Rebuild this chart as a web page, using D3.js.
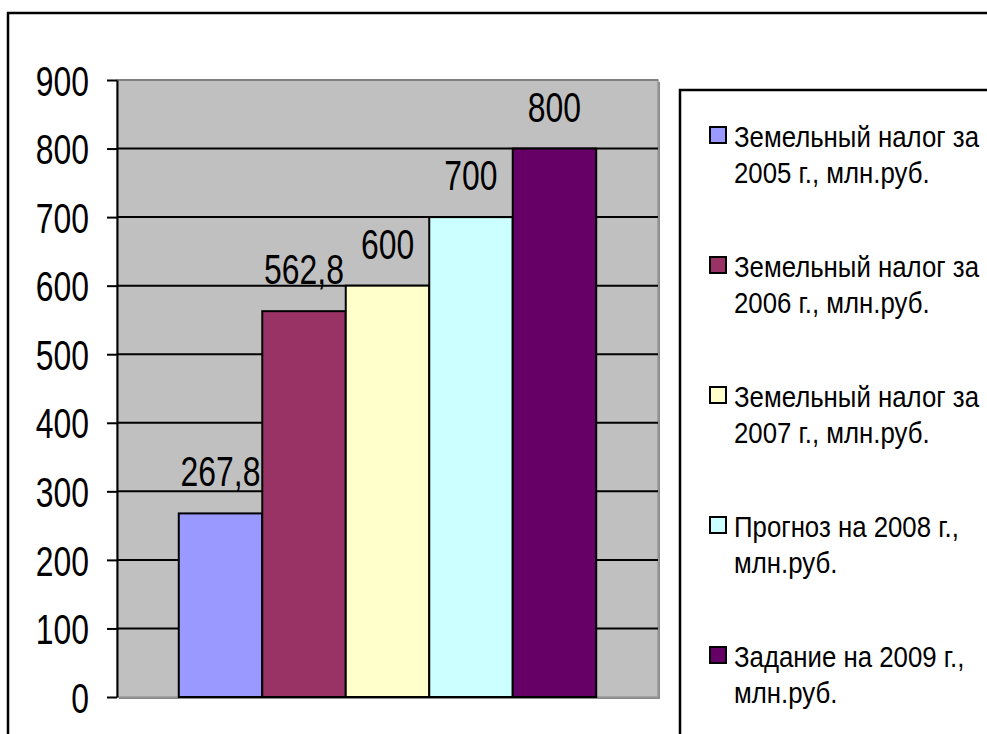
<!DOCTYPE html>
<html>
<head>
<meta charset="utf-8">
<script src="https://cdn.jsdelivr.net/npm/d3@7"></script>
<style>
  html, body { margin: 0; padding: 0; background: #fff; }
  svg { display: block; font-family: "Liberation Sans", Arial, sans-serif; }
</style>
</head>
<body>
<svg id="chart" width="987" height="734"></svg>
<script>
// ---- data ----
const seriesNames = [
  ["Земельный налог за", "2005 г., млн.руб."],
  ["Земельный налог за", "2006 г., млн.руб."],
  ["Земельный налог за", "2007 г., млн.руб."],
  ["Прогноз на 2008 г.,", "млн.руб."],
  ["Задание на 2009 г.,", "млн.руб."]
];
const seriesKeys = ["s2005", "s2006", "s2007", "s2008", "s2009"];
const values = [267.8, 562.8, 600, 700, 800];
const valueLabels = ["267,8", "562,8", "600", "700", "800"];
const colors = ["#9999FF", "#993366", "#FFFFCC", "#CCFFFF", "#660066"];
const yTicks = [0, 100, 200, 300, 400, 500, 600, 700, 800, 900];

// ---- layout ----
const svg = d3.select("#chart");
const plot = { left: 117, right: 658, top: 80, bottom: 697 };

// outer chart frame
svg.append("rect")
  .attr("x", 8).attr("y", 13)
  .attr("width", 1100).attr("height", 900)
  .attr("fill", "#fff").attr("stroke", "#000").attr("stroke-width", 2.5);

const y = d3.scaleLinear().domain([0, 900]).range([plot.bottom, plot.top]);
const x = d3.scaleBand().domain(seriesKeys)
  .range([plot.left, plot.right]).paddingInner(0).paddingOuter(0.74);

// plot area with shadow
svg.append("rect")
  .attr("x", plot.left + 2).attr("y", plot.top + 2)
  .attr("width", plot.right - plot.left).attr("height", plot.bottom - plot.top)
  .attr("fill", "#8a8a8a");
svg.append("rect")
  .attr("x", plot.left).attr("y", plot.top)
  .attr("width", plot.right - plot.left).attr("height", plot.bottom - plot.top)
  .attr("fill", "#C0C0C0").attr("stroke", "#999").attr("stroke-width", 1.5);
svg.append("line")
  .attr("x1", plot.left).attr("x2", plot.right)
  .attr("y1", plot.top).attr("y2", plot.top)
  .attr("stroke", "#808080").attr("stroke-width", 2);

// gridlines
svg.append("g").selectAll("line")
  .data(yTicks.filter(d => d > 0 && d < 900))
  .join("line")
  .attr("x1", plot.left).attr("x2", plot.right)
  .attr("y1", d => y(d)).attr("y2", d => y(d))
  .attr("stroke", "#000").attr("stroke-width", 2);

// bars
svg.append("g").selectAll("rect")
  .data(values)
  .join("rect")
  .attr("x", (d, i) => x(seriesKeys[i]))
  .attr("y", d => y(d))
  .attr("width", x.bandwidth())
  .attr("height", d => y(0) - y(d))
  .attr("fill", (d, i) => colors[i])
  .attr("stroke", "#000").attr("stroke-width", 2);

// data labels
svg.append("g").selectAll("text")
  .data(values)
  .join("text")
  .attr("transform", (d, i) => `translate(${x(seriesKeys[i]) + x.bandwidth() / 2},${y(d) - 27}) scale(0.76,1)`)
  .attr("text-anchor", "middle")
  .attr("font-size", 42)
  .attr("fill", "#000")
  .text((d, i) => valueLabels[i]);

// y axis
const axis = d3.axisLeft(y).tickValues(yTicks).tickSize(10).tickSizeOuter(0).tickFormat(d3.format("d"));
const gAxis = svg.append("g").attr("transform", `translate(${plot.left},0)`).call(axis);
gAxis.select(".domain").attr("stroke", "#000").attr("stroke-width", 2);
gAxis.selectAll(".tick line").attr("stroke", "#000").attr("stroke-width", 2);
gAxis.selectAll(".tick text")
  .attr("x", 0).attr("dy", "0.36em")
  .attr("transform", "translate(-28,0) scale(0.76,1)")
  .attr("font-size", 42)
  .attr("font-family", "'Liberation Sans', Arial, sans-serif")
  .attr("fill", "#000");

// legend
svg.append("rect")
  .attr("x", 680).attr("y", 90)
  .attr("width", 600).attr("height", 800)
  .attr("fill", "#fff").attr("stroke", "#000").attr("stroke-width", 2.5);

const leg = svg.append("g").selectAll("g")
  .data(seriesNames)
  .join("g")
  .attr("transform", (d, i) => `translate(0,${147 + i * 130})`);
leg.append("rect")
  .attr("x", 710).attr("y", -20)
  .attr("width", 16).attr("height", 16)
  .attr("fill", (d, i) => colors[i])
  .attr("stroke", "#000").attr("stroke-width", 2);
leg.each(function (d) {
  const g = d3.select(this);
  d.forEach((line, j) => {
    g.append("text")
      .attr("transform", `translate(734,${j * 36}) scale(0.86,1)`)
      .attr("font-size", 30)
      .attr("fill", "#000")
      .text(line);
  });
});
</script>
</body>
</html>
